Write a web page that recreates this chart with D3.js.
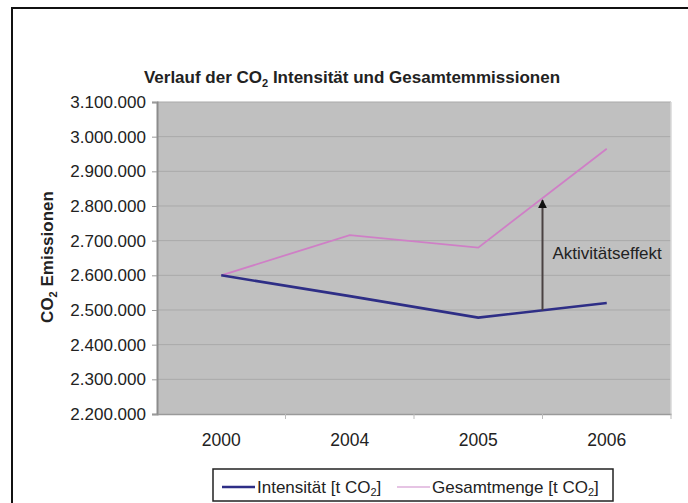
<!DOCTYPE html>
<html>
<head>
<meta charset="utf-8">
<script src="https://cdn.jsdelivr.net/npm/d3@7"></script>
<style>
  body { margin: 0; background: #fff; }
  text { font-family: "Liberation Sans", Arial, sans-serif; fill: #222; }
</style>
</head>
<body>
<svg id="chart" width="688" height="503"></svg>
<script>
const years = ["2000", "2004", "2005", "2006"];
const intensitaet = [2600000, 2540000, 2478000, 2520000];
const gesamtmenge = [2600000, 2716000, 2680000, 2965000];
const yTicks = [2200000, 2300000, 2400000, 2500000, 2600000, 2700000, 2800000, 2900000, 3000000, 3100000];

const svg = d3.select("#chart");
const width = Number.parseFloat(svg.attr("width"));
const height = Number.parseFloat(svg.attr("height"));

const de = d3.formatLocale({ decimal: ",", thousands: ".", grouping: [3], currency: ["", " €"] });
const fmt = de.format(",d");

const plotLeft = 157, plotRight = 671, plotTop = 102, plotBottom = 414;

const x = d3.scaleBand().domain(years).range([plotLeft, plotRight]);
const y = d3.scaleLinear().domain([2200000, 3100000]).range([plotBottom, plotTop]);
const cx = (d) => x(d) + x.bandwidth() / 2;

// outer chart frame (cut off at right and bottom)
svg.append("rect")
  .attr("x", 12).attr("y", 8)
  .attr("width", width).attr("height", height)
  .attr("fill", "#fff").attr("stroke", "#111").attr("stroke-width", 2);

// title
const title = svg.append("text")
  .attr("x", 352).attr("y", 83)
  .attr("text-anchor", "middle")
  .attr("font-size", "17px").attr("font-weight", "bold");
title.append("tspan").text("Verlauf der CO");
title.append("tspan").attr("font-size", "11px").attr("dy", 4).text("2");
title.append("tspan").attr("dy", -4).text(" Intensität und Gesamtemmissionen");

// plot area
svg.append("rect")
  .attr("x", plotLeft).attr("y", plotTop)
  .attr("width", plotRight - plotLeft).attr("height", plotBottom - plotTop)
  .attr("fill", "#c0c0c0");

svg.append("g")
  .selectAll("line")
  .data(yTicks.slice(1))
  .join("line")
  .attr("x1", plotLeft).attr("x2", plotRight)
  .attr("y1", (d) => y(d)).attr("y2", (d) => y(d))
  .attr("stroke", "#a9a9a9").attr("stroke-width", 1);

svg.append("line")
  .attr("x1", plotRight).attr("x2", plotRight).attr("y1", plotTop).attr("y2", plotBottom)
  .attr("stroke", "#d8d8d8").attr("stroke-width", 1.5);

// y axis
const yAxis = svg.append("g")
  .attr("transform", `translate(${plotLeft},0)`)
  .call(d3.axisLeft(y).tickValues(yTicks).tickFormat(fmt).tickSize(5).tickPadding(6));
yAxis.select(".domain").attr("stroke", "#8c8c8c").attr("stroke-width", 2);
yAxis.selectAll(".tick line").attr("stroke", "#9a9a9a");
yAxis.selectAll(".tick text")
  .attr("font-size", "17px").attr("fill", "#222")
  .attr("font-family", "Liberation Sans, Arial, sans-serif");

// x axis
const xAxis = svg.append("g")
  .attr("transform", `translate(0,${plotBottom})`)
  .call(d3.axisBottom(x).tickSize(0).tickPadding(20));
xAxis.select(".domain").attr("stroke", "#9a9a9a").attr("stroke-width", 1.5);
xAxis.selectAll(".tick text")
  .attr("font-size", "17.5px").attr("fill", "#222")
  .attr("font-family", "Liberation Sans, Arial, sans-serif");

svg.append("g")
  .selectAll("line")
  .data(years.slice(1).map((d) => x(d)).concat([plotRight]))
  .join("line")
  .attr("x1", (d) => d).attr("x2", (d) => d)
  .attr("y1", plotBottom).attr("y2", plotBottom + 5)
  .attr("stroke", "#bbb");

// y axis title
const yTitle = svg.append("text")
  .attr("transform", "translate(53,257) rotate(-90)")
  .attr("text-anchor", "middle")
  .attr("font-size", "17px").attr("font-weight", "bold");
yTitle.append("tspan").text("CO");
yTitle.append("tspan").attr("font-size", "11px").attr("dy", 4).text("2");
yTitle.append("tspan").attr("dy", -4).text(" Emissionen");

// lines
const line = d3.line()
  .x((d, i) => cx(years[i]))
  .y((d) => y(d));

svg.append("path")
  .attr("d", line(gesamtmenge))
  .attr("fill", "none").attr("stroke", "#cf7fc6").attr("stroke-width", 1.8);

svg.append("path")
  .attr("d", line(intensitaet))
  .attr("fill", "none").attr("stroke", "#2e2e86").attr("stroke-width", 2.6);

// activity effect arrow, halfway between 2005 and 2006
const ax = (cx("2005") + cx("2006")) / 2;
const yFrom = y((intensitaet[2] + intensitaet[3]) / 2);
const yTo = y((gesamtmenge[2] + gesamtmenge[3]) / 2);

svg.append("defs").append("marker")
  .attr("id", "head")
  .attr("viewBox", "0 0 10 10")
  .attr("refX", 9).attr("refY", 5)
  .attr("markerWidth", 4.5).attr("markerHeight", 4.5)
  .attr("orient", "auto")
  .append("path").attr("d", "M0,0 L10,5 L0,10 Z").attr("fill", "#111");

svg.append("line")
  .attr("x1", ax).attr("x2", ax)
  .attr("y1", yFrom).attr("y2", yTo + 2)
  .attr("stroke", "#4a4242").attr("stroke-width", 2)
  .attr("marker-end", "url(#head)");

svg.append("text")
  .attr("x", ax + 10).attr("y", 259)
  .attr("font-size", "17px")
  .text("Aktivitätseffekt");

// legend
const legend = svg.append("g");
legend.append("rect")
  .attr("x", 213).attr("y", 469)
  .attr("width", 400).attr("height", 32)
  .attr("fill", "#fff").attr("stroke", "#222").attr("stroke-width", 1.5);

const legendItems = [
  { name: "Intensität [t CO", x: 222, color: "#2e2e86", w: 2.6 },
  { name: "Gesamtmenge [t CO", x: 397, color: "#e6c4e4", w: 1.8 },
];

legendItems.forEach((d) => {
  legend.append("line")
    .attr("x1", d.x).attr("x2", d.x + 33)
    .attr("y1", 487).attr("y2", 487)
    .attr("stroke", d.color).attr("stroke-width", d.w);
  const t = legend.append("text")
    .attr("x", d.x + 35).attr("y", 493)
    .attr("font-size", "17px");
  t.append("tspan").text(d.name);
  t.append("tspan").attr("font-size", "11px").attr("dy", 3).text("2");
  t.append("tspan").attr("dy", -3).text("]");
});
</script>
</body>
</html>
